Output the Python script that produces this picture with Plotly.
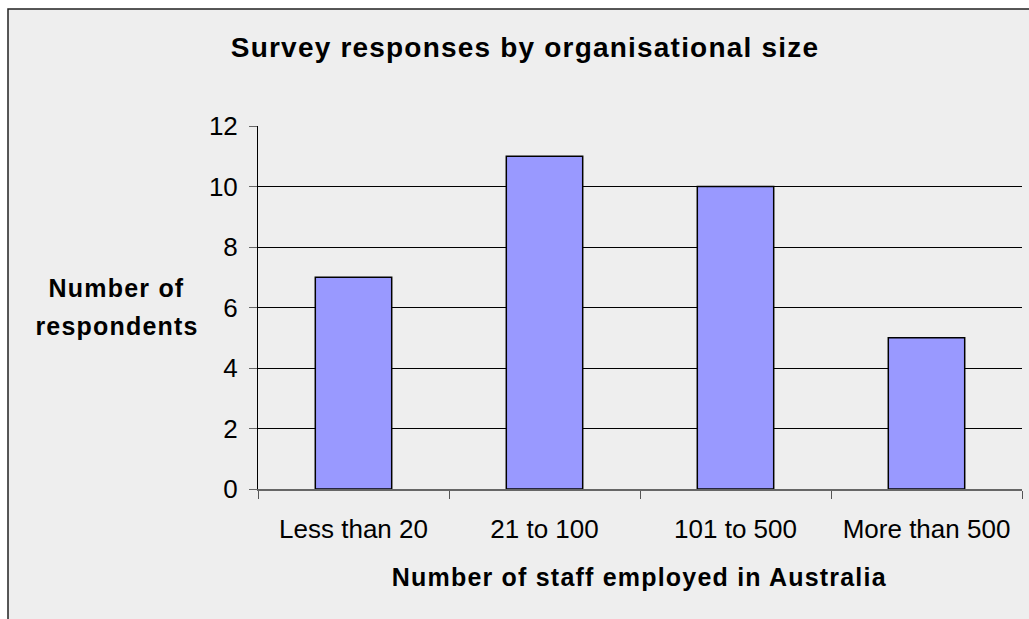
import plotly.graph_objects as go

categories = ["Less than 20", "21 to 100", "101 to 500", "More than 500"]
respondents = [7, 11, 10, 5]
y_ticks = [0, 2, 4, 6, 8, 10, 12]

W, H = 1029, 619
ml, mr, mt, mb = 258, 7, 126, 130
pw, ph = W - ml - mr, H - mt - mb

FONT = "Liberation Sans, Arial, sans-serif"

fig = go.Figure(go.Bar(
    x=categories, y=respondents, width=0.4,
    marker=dict(color="#9999ff", line=dict(color="black", width=1.5)),
))

# chart-area background with border (starts at px 8,9)
fig.add_shape(type="rect", xref="paper", yref="paper", layer="below",
              x0=(8 - ml) / pw, x1=(W + 20 - ml) / pw,
              y0=-(H + 20 - (H - mb)) / ph, y1=((H - mb) - 9) / ph,
              fillcolor="#eeeeee", line=dict(color="#222222", width=1.5))

fig.update_layout(
    width=W, height=H,
    margin=dict(l=ml, r=mr, t=mt, b=mb),
    paper_bgcolor="white", plot_bgcolor="rgba(0,0,0,0)",
    showlegend=False,
    font=dict(family=FONT, color="black"),
    title=dict(text="<b>Survey responses by organisational size</b>",
               x=(525) / W, xanchor="center", y=1 - 47 / H, yanchor="middle",
               xref="container", yref="container",
               font=dict(size=28, family=FONT)),
)

fig.update_yaxes(range=[0, 12], tickvals=y_ticks, showgrid=True, gridcolor="black",
                 gridwidth=1, showline=True, linecolor="black", linewidth=1,
                 ticks="outside", ticklen=8, tickcolor="#666666",
                 tickfont=dict(size=26, family=FONT), ticklabelstandoff=6, zeroline=False)
fig.update_xaxes(showline=True, linecolor="#666666", linewidth=1.5,
                 ticks="outside", ticklen=8, tickcolor="#555555", tickson="boundaries",
                 tickfont=dict(size=26, family=FONT), ticklabelstandoff=16,
                 range=[-0.5, 3.5])

for txt, ypx in [("Number of", 288), ("respondents", 326)]:
    fig.add_annotation(text="<b>" + txt + "</b>", xref="paper", yref="paper",
                       x=(117 - ml) / pw, y=((H - mb) - ypx) / ph, xanchor="center", yanchor="middle",
                       showarrow=False, font=dict(size=25, family=FONT), align="center")
fig.add_annotation(text="<b>Number of staff employed in Australia</b>", xref="paper", yref="paper",
                   x=(640 - ml) / pw, y=-((577 - (H - mb)) / ph), xanchor="center", yanchor="middle",
                   showarrow=False, font=dict(size=25, family=FONT))

post = """
document.querySelectorAll('.gtitle, .annotation-text').forEach(function(e){
  e.style.letterSpacing = '1.2px';
});
"""
fig.write_html("out.html", post_script=post)
